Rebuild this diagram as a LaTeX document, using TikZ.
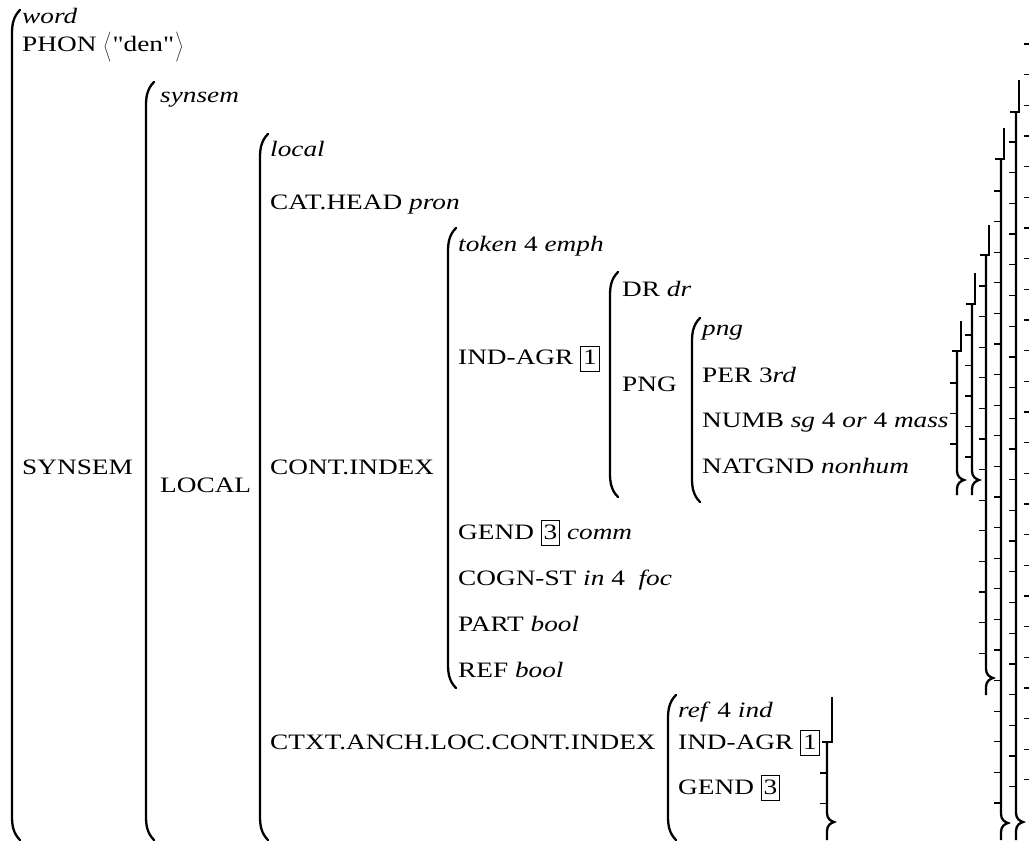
\documentclass[tikz,border=0pt]{standalone}
\usepackage{fontspec}
\setmainfont{Liberation Serif}[FakeStretch=1.24,Ligatures=TeXOff]
\begin{document}
\begin{tikzpicture}[x=1pt,y=-1pt,
  txt/.style={anchor=base west,inner sep=0pt,font=\fontsize{22}{26}\selectfont},
  brk/.style={line width=2.3pt,line cap=round},
  rline/.style={line width=2.3pt},
  tick/.style={line width=1.3pt}]
\useasboundingbox (0,0) rectangle (1029,842);
\newcommand\bx[1]{{\setlength{\fboxsep}{1pt}\setlength{\fboxrule}{0.9pt}\fbox{\hspace{1pt}\rule[-5pt]{0pt}{22pt}#1\hspace{1pt}}}}
\newcommand\avmL[3]{\draw[brk] (#1+8,#2) .. controls (#1+1,#2+7) and (#1,#2+15) .. (#1,#2+24) -- (#1,#3-24) .. controls (#1,#3-15) and (#1+1,#3-7) .. (#1+8,#3);}
% \avmR{xstub}{ystubtop}{yjog}{xjogleft}{xmain}{ybottom}{ybrace}
\newcommand\avmR[7]{\draw[rline] (#1,#2) -- (#1,#3) -- (#4,#3);
  \draw[rline] (#5,#3) -- (#5,#7-9) .. controls (#5,#7-3) and (#5+4,#7-1) .. (#5+7,#7) .. controls (#5+4,#7+1) and (#5,#7+3) .. (#5,#7+9) -- (#5,#6);}
% left brackets
\avmL{12}{10}{840}
\avmL{146}{82}{840}
\avmL{260}{134}{840}
\avmL{448}{228}{688}
\avmL{610}{272}{497}
\avmL{692}{318}{502}
\avmL{668}{695}{840}
% texts
\node[txt] (w) at (22,24) {\textit{word}};
\node[txt] (phon) at (22,52) {PHON $\left\langle\rule[-8pt]{0pt}{28pt}\right.$"den"$\left.\rule[-8pt]{0pt}{28pt}\right\rangle$};
\node[txt] (ss) at (160,103) {\textit{synsem}};
\node[txt] (SS) at (22,475) {SYNSEM};
\node[txt] (LOC) at (160,492) {LOCAL};
\node[txt] (loc) at (270,157) {\textit{local}};
\node[txt] (cat) at (270,210) {CAT.HEAD \textit{pron}};
\node[txt] (cont) at (270,475) {CONT.INDEX};
\node[txt] (tok) at (458,252) {\textit{token} 4 \textit{emph}};
\node[txt] (dr) at (622,297) {DR \textit{dr}};
\node[txt] (ia) at (458,365) {IND-AGR \bx{1}};
\node[txt] (PNG) at (622,392) {PNG};
\node[txt] (png) at (702,336) {\textit{png}};
\node[txt] (per) at (702,383) {PER 3\textit{rd}};
\node[txt] (numb) at (702,428) {NUMB \textit{sg} 4 \textit{or} 4 \textit{mass}};
\node[txt] (nat) at (702,474) {NATGND \textit{nonhum}};
\node[txt] (gend) at (458,539) {GEND \bx{3} \textit{comm}};
\node[txt] (cogn) at (458,585) {COGN-ST \textit{in} 4 \ \textit{foc}};
\node[txt] (part) at (458,631) {PART \textit{bool}};
\node[txt] (ref) at (458,677) {REF \textit{bool}};
\node[txt] (ctxt) at (270,749) {CTXT.ANCH.LOC.CONT.INDEX};
\node[txt] (rf) at (678,717) {\textit{ref} 4 \textit{ind}};
\node[txt] (ia2) at (678,749) {IND-AGR \bx{1}};
\node[txt] (g2) at (678,794) {GEND \bx{3}};
% right side, column A ticks
\foreach \k in {0,...,24} \draw[tick] (1024,44+30.66*\k) -- (1029,44+30.66*\k);
% column B
\avmR{1019}{80}{112}{1010}{1016}{840}{822}
\foreach \k in {0,...,21} \draw[tick] (1009,142+30.7*\k) -- (1016,142+30.7*\k);
% column C
\avmR{1004}{128}{159}{995}{1001}{840}{823}
\foreach \k in {0,...,20} \draw[tick] (994,191+30.6*\k) -- (1001,191+30.6*\k);
% column D
\avmR{989}{225}{255}{980}{986}{695}{678}
\foreach \k in {0,...,12} \draw[tick] (979,286+30.6*\k) -- (986,286+30.6*\k);
% column E
\avmR{975}{273}{304}{966}{972}{495}{480}
\foreach \k in {0,...,4} \draw[tick] (965,335+30.5*\k) -- (972,335+30.5*\k);
% column F
\avmR{961}{321}{351}{952}{957}{495}{480}
\foreach \k in {0,...,2} \draw[tick] (950,383+30.5*\k) -- (957,383+30.5*\k);
% column G (ctxt)
\avmR{832}{697}{742}{822}{827}{840}{822}
\foreach \k in {0,...,1} \draw[tick] (820,773+30.5*\k) -- (827,773+30.5*\k);
\end{tikzpicture}
\end{document}
